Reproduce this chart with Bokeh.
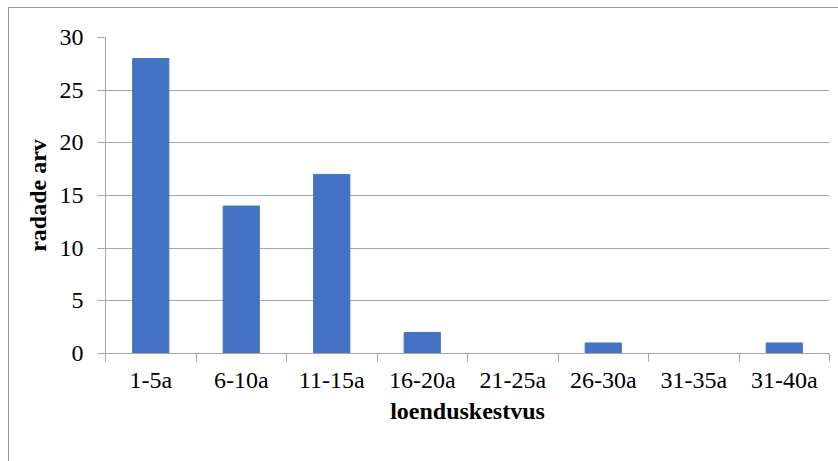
from bokeh.plotting import figure
from bokeh.models import FixedTicker, ColumnDataSource, Range1d
from bokeh.embed import file_html
from bokeh.resources import INLINE

categories = ["1-5a", "6-10a", "11-15a", "16-20a", "21-25a", "26-30a", "31-35a", "31-40a"]
counts = [28, 14, 17, 2, 0, 1, 0, 1]
y_ticks = [0, 5, 10, 15, 20, 25, 30]

n = len(categories)
centers = [i + 0.5 for i in range(n)]
bounds = list(range(n + 1))

src = ColumnDataSource(dict(x=centers, top=counts))

GRAY = "#a6a6a6"
FONT = "'Liberation Serif', 'Times New Roman', serif"

p = figure(width=830, height=454, output_backend="svg", toolbar_location=None,
           x_range=Range1d(0, n), y_range=Range1d(0, 30),
           min_border_left=96, min_border_right=10, min_border_top=29, min_border_bottom=109,
           margin=(7, 0, 0, 8),
           styles={"border-top": "1px solid #9a9a9a", "border-left": "1px solid #9a9a9a"})
p.outline_line_color = None
p.vbar(x="x", top="top", width=0.4, source=src, color="#4472C4")

# x axis
p.xaxis.ticker = FixedTicker(ticks=centers, minor_ticks=bounds)
p.xaxis.major_label_overrides = {c: lab for c, lab in zip(centers, categories)}
p.xaxis.major_tick_line_color = None
p.xaxis.minor_tick_line_color = GRAY
p.xaxis.minor_tick_out = 8
p.xaxis.minor_tick_in = 0
p.xaxis.axis_line_color = GRAY
p.xaxis.major_label_text_font = FONT
p.xaxis.major_label_text_font_size = "24px"
p.xaxis.major_label_text_color = "black"
p.xaxis.major_label_standoff = 5
p.xaxis.axis_label = "loenduskestvus"
p.xaxis.axis_label_text_font = FONT
p.xaxis.axis_label_text_font_style = "bold"
p.xaxis.axis_label_text_font_size = "24px"
p.xaxis.axis_label_text_color = "black"
p.xaxis.axis_label_standoff = 2
p.xgrid.grid_line_color = None

# y axis
p.yaxis.ticker = FixedTicker(ticks=y_ticks)
p.yaxis.major_tick_line_color = GRAY
p.yaxis.major_tick_out = 8
p.yaxis.major_tick_in = 0
p.yaxis.minor_tick_line_color = None
p.yaxis.axis_line_color = GRAY
p.yaxis.major_label_text_font = FONT
p.yaxis.major_label_text_font_size = "24px"
p.yaxis.major_label_text_color = "black"
p.yaxis.major_label_standoff = 14
p.yaxis.axis_label = "radade arv"
p.yaxis.axis_label_text_font = FONT
p.yaxis.axis_label_text_font_style = "bold"
p.yaxis.axis_label_text_font_size = "24px"
p.yaxis.axis_label_text_color = "black"
p.yaxis.axis_label_standoff = 6
p.ygrid.grid_line_color = GRAY
p.ygrid.grid_line_width = 1

open("out.html", "w").write(file_html(p, INLINE))
